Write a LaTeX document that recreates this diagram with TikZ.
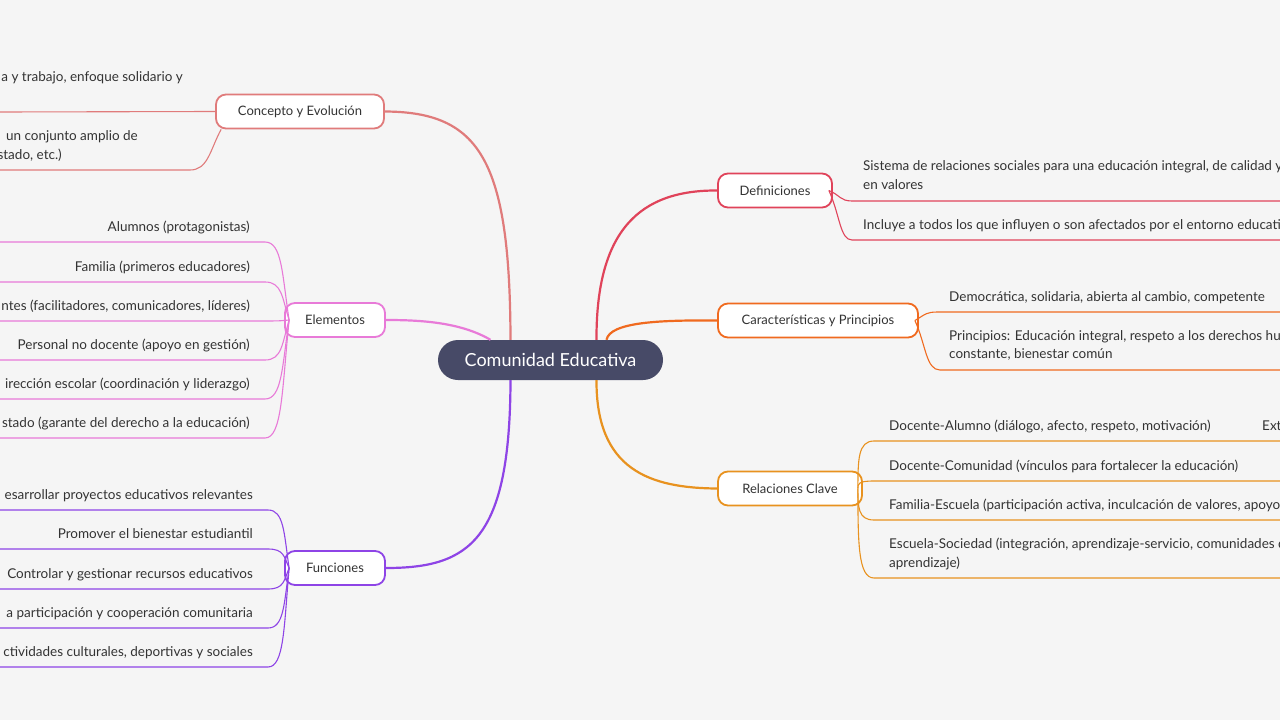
\documentclass[tikz,border=0pt]{standalone}
\usepackage{fontspec}
\setmainfont{Lato}
\definecolor{bg}{HTML}{F5F5F5}
\definecolor{cen}{HTML}{474A67}
\definecolor{cce}{HTML}{E07B7B}
\definecolor{cel}{HTML}{E87AD8}
\definecolor{cfu}{HTML}{8E44E6}
\definecolor{cde}{HTML}{E0435A}
\definecolor{cca}{HTML}{F06A1F}
\definecolor{crc}{HTML}{E8921F}
\definecolor{txt}{HTML}{333333}
\tikzset{
 br/.style={draw=#1,line width=1.8pt,fill=white,rounded corners=10pt,minimum height=34pt,inner xsep=8pt,font=\fontsize{13}{15}\selectfont,text=txt},
 lk/.style={draw=#1,line width=2.2pt},
 ch/.style={draw=#1,line width=1.1pt},
 tl/.style={font=\fontsize{13.5}{19}\selectfont,text=txt,inner sep=0pt},
}
\begin{document}
\begin{tikzpicture}[x=1pt,y=-1pt]
\useasboundingbox (0,0) rectangle (1280,720);
\fill[bg] (0,0) rectangle (1280,720);
\clip (0,0) rectangle (1280,720);
\node[fill=cen,rounded corners=20pt,minimum width=225pt,minimum height=40pt,text=white,font=\fontsize{18}{20}\selectfont] (c) at (550.5,360) {Comunidad Educativa};
% branch nodes
\node[br=cce,minimum width=168pt] (ce) at (300,111.5) {Concepto y Evolución};
\node[br=cel,minimum width=100pt] (el) at (335,320) {Elementos};
\node[br=cfu,minimum width=100pt] (fu) at (335,568) {Funciones};
\node[br=cde,minimum width=114pt] (de) at (775,190.5) {Definiciones};
\node[br=cca,minimum width=200pt] (ca) at (818,320.5) {Características y Principios};
\node[br=crc,minimum width=144pt] (rc) at (790,488.5) {Relaciones Clave};
% main links
\draw[lk=cce] ([xshift=-40pt]c.north) .. controls (510,160) and (480,112) .. (ce.east);
\draw[lk=cel] ([xshift=-60pt]c.north) .. controls (460,322) and (420,320) .. (el.east);
\draw[lk=cfu] ([xshift=-40pt]c.south) .. controls (510,540) and (470,568) .. (fu.east);
\draw[lk=cde] ([xshift=46pt]c.north) .. controls (596,230) and (640,190) .. (de.west);
\draw[lk=cca] ([xshift=56pt]c.north) .. controls (610,322) and (660,320) .. (ca.west);
\draw[lk=crc] ([xshift=46pt]c.south) .. controls (596,470) and (650,488) .. (rc.west);
% Concepto children
\node[tl,anchor=base east] (ce1) at (183,81) {a y trabajo, enfoque solidario y};
\node[tl,anchor=base east] (ce2) at (138,140) {un conjunto amplio de};
\node[tl,anchor=base east] (ce3) at (62,159) {stado, etc.)};
\coordinate (ce1e) at (0,112);
\coordinate (ce2e) at (0,170);
\draw[ch=cce] (ce.west) -- (ce1e);
\draw[ch=cce] ([xshift=6pt]ce.south west) .. controls (210,150) and (208,170) .. (190,170) -- (ce2e);
% Elementos children
\foreach \t/\y in {Alumnos (protagonistas)/242, Familia (primeros educadores)/282, ntes (facilitadores{,} comunicadores{,} líderes)/321, Personal no docente (apoyo en gestión)/360, irección escolar (coordinación y liderazgo)/399, stado (garante del derecho a la educación)/438}{
  \node[tl,anchor=base east] (e\y) at (250,\y-11) {\t};
  \coordinate (ee\y) at (0,\y);
  \draw[ch=cel] ([xshift=5pt]el.west) .. controls (282,{320+(\y-320)*0.6}) and (282,\y) .. (265,\y) -- (ee\y);
}
% Funciones children
\foreach \t/\y in {esarrollar proyectos educativos relevantes/510, Promover el bienestar estudiantil/549, Controlar y gestionar recursos educativos/589, a participación y cooperación comunitaria/628, ctividades culturales{,} deportivas y sociales/667}{
  \node[tl,anchor=base east] (f\y) at (253,\y-11) {\t};
  \coordinate (fe\y) at (0,\y);
  \draw[ch=cfu] ([xshift=5pt]fu.west) .. controls (284,{568+(\y-568)*0.6}) and (284,\y) .. (268,\y) -- (fe\y);
}
% Definiciones children
\node[tl,anchor=base west,align=left] (d1) at (863,170) {Sistema de relaciones sociales para una educación integral, de calidad y};
\node[tl,anchor=base west] (d1b) at (863,189) {en valores};
\node[tl,anchor=base west] (d2) at (863,229) {Incluye a todos los que influyen o son afectados por el entorno educativo};
\coordinate (d1e) at (1280,201);
\coordinate (d2e) at (1280,240);
\draw[ch=cde] ([xshift=-4pt]de.east) .. controls (840,195) and (840,201) .. (852,201) -- (d1e);
\draw[ch=cde] ([xshift=-4pt]de.east) .. controls (840,215) and (840,240) .. (852,240) -- (d2e);
% Caracteristicas children
\node[tl,anchor=base west] (a1) at (949,301) {Democrática, solidaria, abierta al cambio, competente};
\node[tl,anchor=base west] (a2) at (949,340) {Principios: Educación integral, respeto a los derechos humanos};
\node[tl,anchor=base west] (a2b) at (949,358) {constante, bienestar común};
\coordinate (a1e) at (1280,312);
\coordinate (a2e) at (1280,370);
\draw[ch=cca] ([xshift=-4pt]ca.east) .. controls (926,314) and (926,312) .. (938,312) -- (a1e);
\draw[ch=cca] ([xshift=-4pt]ca.east) .. controls (926,345) and (926,370) .. (940,370) -- (a2e);
% Relaciones children
\node[tl,anchor=base west] (r1) at (889,430) {Docente-Alumno (diálogo, afecto, respeto, motivación)};
\node[tl,anchor=base west] (r1x) at (1262,430) {Extra};
\node[tl,anchor=base west] (r2) at (889,470) {Docente-Comunidad (vínculos para fortalecer la educación)};
\node[tl,anchor=base west] (r3) at (889,509) {Familia-Escuela (participación activa, inculcación de valores, apoyo)};
\node[tl,anchor=base west] (r4) at (889,548) {Escuela-Sociedad (integración, aprendizaje-servicio, comunidades de};
\node[tl,anchor=base west] (r4b) at (889,567) {aprendizaje)};
\foreach \y in {441,481,520,578}{
  \coordinate (re\y) at (1280,\y);
  \draw[ch=crc] ([xshift=-5pt]rc.east) .. controls (858,{488+(\y-488)*0.6}) and (858,\y) .. (874,\y) -- (re\y);
}
\end{tikzpicture}
\end{document}
